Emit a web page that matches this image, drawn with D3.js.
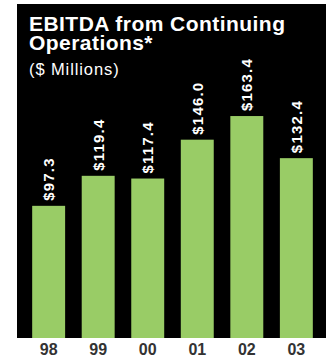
<!DOCTYPE html>
<html>
<head>
<meta charset="utf-8">
<script src="https://cdn.jsdelivr.net/npm/d3@7/dist/d3.min.js"></script>
<style>
  html, body { margin: 0; padding: 0; background: #ffffff; }
  svg { display: block; }
</style>
</head>
<body>
<svg id="chart" width="331" height="362"></svg>
<script>
// EBITDA from continuing operations, $ millions
const years = ["98", "99", "00", "01", "02", "03"];
const ebitda = [97.3, 119.4, 117.4, 146.0, 163.4, 132.4];
const valueLabels = ["$97.3", "$119.4", "$117.4", "$146.0", "$163.4", "$132.4"];

const titleLines = ["EBITDA from Continuing", "Operations*"];
const subtitle = "($ Millions)";

const svg = d3.select("#chart");

const panel = { left: 17, top: 4, right: 326, bottom: 338 };

svg.append("rect")
  .attr("x", panel.left)
  .attr("y", panel.top)
  .attr("width", panel.right - panel.left)
  .attr("height", panel.bottom - panel.top)
  .attr("fill", "#000000");

const x = d3.scaleBand()
  .domain(years)
  .range([24, 321])
  .paddingInner(0.335)
  .paddingOuter(0.165);

const y = d3.scaleLinear()
  .domain([0, 180])
  .range([panel.bottom, 93.5]);

const rows = years.map((yr, i) => ({ year: yr, value: ebitda[i], label: valueLabels[i] }));

// bars
svg.append("g")
  .selectAll("rect")
  .data(rows)
  .join("rect")
  .attr("x", d => x(d.year))
  .attr("y", d => y(d.value))
  .attr("width", x.bandwidth())
  .attr("height", d => y(0) - y(d.value))
  .attr("fill", "#99cc66");

// rotated value labels above each bar
svg.append("g")
  .selectAll("text")
  .data(rows)
  .join("text")
  .attr("transform", d => `translate(${x(d.year) + x.bandwidth() / 2 + 5.5},${y(d.value) - 5}) rotate(-90)`)
  .attr("text-anchor", "start")
  .attr("fill", "#ffffff")
  .attr("font-family", "Liberation Sans, Arial, sans-serif")
  .attr("font-weight", "bold")
  .attr("font-size", 15)
  .attr("letter-spacing", 1.2)
  .text(d => d.label);

// year axis below the panel
const xAxis = d3.axisBottom(x).tickSize(0).tickPadding(0);
const axisG = svg.append("g")
  .attr("transform", `translate(0,${panel.bottom})`)
  .call(xAxis);
axisG.select(".domain").remove();
axisG.selectAll("text")
  .attr("dy", null)
  .attr("y", 17)
  .attr("fill", "#333333")
  .attr("font-family", "Liberation Sans, Arial, sans-serif")
  .attr("font-weight", "bold")
  .attr("font-size", 16);

// title block: two lines in a single text element
const title = svg.append("text")
  .attr("x", 29)
  .attr("y", 31)
  .attr("fill", "#ffffff")
  .attr("font-family", "Liberation Sans, Arial, sans-serif")
  .attr("font-weight", "bold")
  .attr("font-size", 21)
  .attr("letter-spacing", 0.45);
title.selectAll("tspan")
  .data(titleLines)
  .join("tspan")
  .attr("x", 29)
  .attr("dy", (d, i) => i === 0 ? 0 : 18.5)
  .text(d => d);

svg.append("text")
  .attr("x", 29)
  .attr("y", 75)
  .attr("fill", "#ffffff")
  .attr("font-family", "Liberation Sans, Arial, sans-serif")
  .attr("font-size", 16.5)
  .attr("letter-spacing", 0.9)
  .text(subtitle);
</script>
</body>
</html>
